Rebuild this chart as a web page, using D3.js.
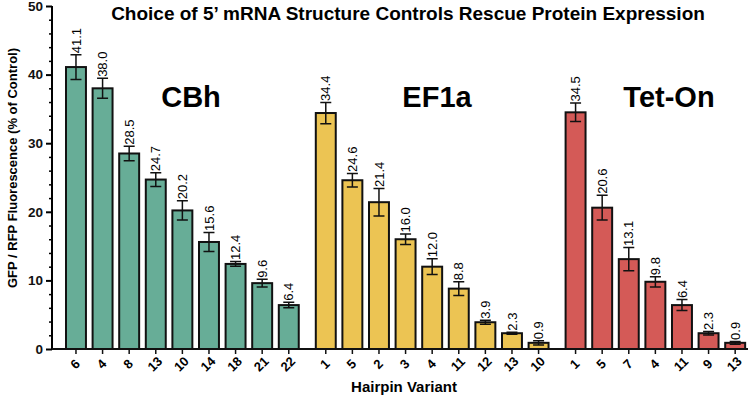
<!DOCTYPE html>
<html>
<head>
<meta charset="utf-8">
<script src="https://cdn.jsdelivr.net/npm/d3@7"></script>
<style>
  body { margin: 0; background: #fff; }
  svg { font-family: "Liberation Sans", Arial, sans-serif; }
  .bar { stroke: #111; stroke-width: 2; }
  .err { stroke: #111; stroke-width: 1.5; fill: none; }
</style>
</head>
<body>
<div class="container"></div>
<script>
// data
const groups = ['CBh', 'EF1a', 'Tet-On'];
const colors = ['#67ad97', '#ecc453', '#d45a57'];

const cbhVariants = ['6', '4', '8', '13', '10', '14', '18', '21', '22'];
const cbhValues = [41.1, 38.0, 28.5, 24.7, 20.2, 15.6, 12.4, 9.6, 6.4];
const cbhErrors = [1.8, 1.45, 1.05, 1.0, 1.4, 1.4, 0.35, 0.55, 0.4];

const ef1aVariants = ['1', '5', '2', '3', '4', '11', '12', '13', '10'];
const ef1aValues = [34.4, 24.6, 21.4, 16.0, 12.0, 8.8, 3.9, 2.3, 0.9];
const ef1aErrors = [1.55, 1.0, 2.0, 0.75, 1.15, 1.0, 0.3, 0.15, 0.3];

const tetVariants = ['1', '5', '7', '4', '11', '9', '13'];
const tetValues = [34.5, 20.6, 13.1, 9.8, 6.4, 2.3, 0.9];
const tetErrors = [1.35, 1.8, 1.7, 0.75, 0.8, 0.25, 0.2];

const yTicks = [0, 10, 20, 30, 40, 50];

const WIDTH = 754;
const HEIGHT = 397;
const X0 = 52;
const X1 = 748;
const Y_TOP = 6;
const Y_BOTTOM = 349;
const GROUP_GAP = 10.4;

let translate = (x, y) => (`translate(${x},${y})`);

let rows = [];
[[cbhVariants, cbhValues, cbhErrors], [ef1aVariants, ef1aValues, ef1aErrors], [tetVariants, tetValues, tetErrors]]
    .forEach((g, gi) => {
        g[0].forEach((v, i) => rows.push({
            key: groups[gi] + '-' + v, label: v, value: g[1][i], err: g[2][i], group: gi
        }));
    });

let xBand = d3.scaleBand()
    .domain(rows.map(d => d.key))
    .range([66, 724.35])
    .paddingInner(0.25)
    .paddingOuter(0);

let xPos = d => xBand(d.key) + d.group * GROUP_GAP;

let yScale = d3.scaleLinear()
    .domain([0, 50])
    .range([Y_BOTTOM, Y_TOP]);

let svg = d3.select('.container').append('svg')
    .attr('width', WIDTH)
    .attr('height', HEIGHT);

// title
svg.append('text')
    .attr('x', 408).attr('y', 20)
    .attr('text-anchor', 'middle')
    .attr('font-size', 19).attr('font-weight', 'bold')
    .text('Choice of 5\u2019 mRNA Structure Controls Rescue Protein Expression');

// bars
svg.append('g').selectAll('rect')
    .data(rows)
    .enter().append('rect')
    .classed('bar', true)
    .attr('x', d => xPos(d))
    .attr('width', xBand.bandwidth())
    .attr('y', d => yScale(d.value))
    .attr('height', d => yScale(0) - yScale(d.value))
    .attr('fill', d => colors[d.group]);

// error bars
let err = svg.append('g').selectAll('g')
    .data(rows)
    .enter().append('g')
    .classed('err', true);

err.append('path')
    .attr('d', d => {
        let cx = xPos(d) + xBand.bandwidth() / 2;
        let t = yScale(d.value + d.err), b = yScale(d.value - d.err);
        return `M${cx - 5.5},${t}H${cx + 5.5}M${cx},${t}V${b}M${cx - 5.5},${b}H${cx + 5.5}`;
    });

// value labels
svg.append('g').selectAll('text')
    .data(rows)
    .enter().append('text')
    .attr('transform', d => translate(xPos(d) + xBand.bandwidth() / 2, yScale(d.value + d.err) - 1.5) + ' rotate(-90)')
    .attr('dy', '0.35em')
    .attr('font-size', 13)
    .text(d => d.value.toFixed(1));

// group labels
const groupLabelX = [191, 437, 669];
svg.append('g').selectAll('text')
    .data(groups)
    .enter().append('text')
    .attr('x', (d, i) => groupLabelX[i])
    .attr('y', 107)
    .attr('text-anchor', 'middle')
    .attr('font-size', 29).attr('font-weight', 'bold')
    .text(d => d);

// y axis
let yAxis = d3.axisLeft(yScale)
    .tickValues(yTicks)
    .tickSize(6)
    .tickPadding(3);

let yMinor = d3.axisLeft(yScale)
    .tickValues(d3.range(0, 51, 2).filter(v => v % 10 !== 0))
    .tickSize(3)
    .tickFormat('');

svg.append('g')
    .attr('transform', translate(X0, 0))
    .call(yMinor)
    .call(g => g.select('.domain').remove())
    .call(g => g.selectAll('line').attr('stroke-width', 1.5));

let yg = svg.append('g')
    .attr('transform', translate(X0, 0))
    .call(yAxis);
yg.select('.domain').attr('stroke-width', 2).attr('d', `M0,${Y_TOP}V${Y_BOTTOM}`);
yg.selectAll('line').attr('stroke-width', 2);
yg.selectAll('text')
    .attr('font-size', 13.5).attr('font-weight', 'bold')
    .attr('font-family', '"Liberation Sans", Arial, sans-serif')
    .attr('fill', '#111');

// x axis
svg.append('line')
    .attr('x1', X0).attr('x2', X1)
    .attr('y1', Y_BOTTOM).attr('y2', Y_BOTTOM)
    .attr('stroke', '#111').attr('stroke-width', 2);

let xt = svg.append('g').selectAll('g')
    .data(rows)
    .enter().append('g')
    .attr('transform', d => translate(xPos(d) + xBand.bandwidth() / 2, Y_BOTTOM));

xt.append('line')
    .attr('y2', 5)
    .attr('stroke', '#111').attr('stroke-width', 1.5);

xt.append('text')
    .attr('transform', translate(-1, 15) + ' rotate(-45)')
    .attr('text-anchor', 'middle')
    .attr('dy', '0.35em')
    .attr('font-size', 13).attr('font-weight', 'bold')
    .text(d => d.label);

// axis titles
svg.append('text')
    .attr('transform', translate(17, 168) + ' rotate(-90)')
    .attr('text-anchor', 'middle')
    .attr('font-size', 13).attr('font-weight', 'bold')
    .text('GFP / RFP Fluorescence (% of Control)');

svg.append('text')
    .attr('x', 404).attr('y', 392)
    .attr('text-anchor', 'middle')
    .attr('font-size', 15).attr('font-weight', 'bold')
    .text('Hairpin Variant');
</script>
</body>
</html>
